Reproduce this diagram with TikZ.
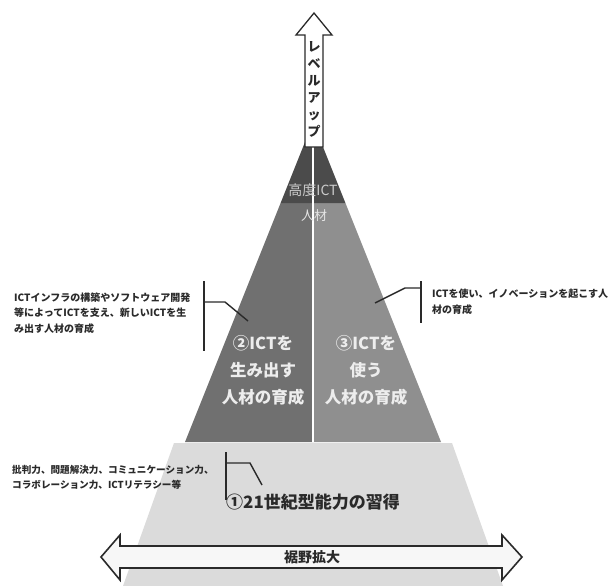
\documentclass[tikz,border=0pt]{standalone}
\usepackage{fontspec}
\newfontfamily\jp{Noto Sans CJK JP}
\definecolor{topdark}{HTML}{4B4B4B}
\definecolor{midleft}{HTML}{707070}
\definecolor{midright}{HTML}{8F8F8F}
\definecolor{baselight}{HTML}{DBDBDB}
\definecolor{ink}{HTML}{2A2A2A}
\definecolor{pale}{HTML}{EDEDED}
\begin{document}
\begin{tikzpicture}[x=1pt,y=-1pt,
  callout/.style={draw=ink, line width=1.4pt},
  bigarrow/.style={draw=ink, line width=1.6pt, fill=white, line join=miter},
  sidenote/.style={font=\jp\bfseries\fontsize{9.6}{15.5}\selectfont, text=ink, align=left, inner sep=0pt, anchor=west},
  inlabel/.style={font=\jp\bfseries\fontsize{16.5}{27}\selectfont, text=pale, align=center, inner sep=0pt}
]
\useasboundingbox (0,0) rectangle (611,586);
\fill[white] (0,0) rectangle (611,586);
% pyramid sections
\fill[baselight] (174,443) -- (452,443) -- (503,586) -- (123,586) -- cycle;
\fill[midleft] (280.6,203) -- (313,203) -- (313,442) -- (185,442) -- cycle;
\fill[midright] (313,203) -- (345.4,203) -- (441,442) -- (313,442) -- cycle;
\fill[topdark] (313,122) -- (345.4,203) -- (280.6,203) -- cycle;
\draw[white, line width=1.5pt] (313,125) -- (313,442);
% up arrow
\draw[bigarrow, line width=1.3pt] (305,147) -- (323,147) -- (323,35) -- (332,35) -- (314,13) -- (296,35) -- (305,35) -- cycle;
\node[font=\jp\bfseries\fontsize{13}{17}\selectfont, text=ink, align=center, inner sep=0pt] (levelup) at (314,89) {レ\\ベ\\ル\\ア\\ッ\\プ};
% labels in pyramid
\node[font=\jp\fontsize{14}{16}\selectfont, text=black!20, inner sep=0pt] (kodo) at (313,190) {高度ICT};
\node[font=\jp\fontsize{13}{16}\selectfont, text=black!10, inner sep=0pt] (jinzai) at (314,216) {人材};
\node[inlabel] (create) at (263,370) {②ICTを\\生み出す\\人材の育成};
\node[inlabel] (use) at (366,370) {③ICTを\\使う\\人材の育成};
\node[font=\jp\bfseries\fontsize{17}{20}\selectfont, text=ink, inner sep=0pt, anchor=west] (basic) at (226,502) {①21世紀型能力の習得};
% side notes
\node[sidenote, font=\jp\bfseries\fontsize{10}{15.5}\selectfont] (noteL) at (14,313) {ICTインフラの構築やソフトウェア開発\\等によってICTを支え、新しいICTを生\\み出す人材の育成};
\node[sidenote, font=\jp\bfseries\fontsize{10}{16}\selectfont] (noteR) at (432,301.5) {ICTを使い、イノベーションを起こす人\\材の育成};
\node[sidenote] (noteB) at (12,477.5) {批判力、問題解決力、コミュニケーション力、\\コラボレーション力、ICTリテラシー等};
% callout lines
\coordinate (lvt) at (204,281); \coordinate (lvb) at (204,351);
\coordinate (lh) at (204,302); \coordinate (lk) at (225,302); \coordinate (le) at (248,321);
\draw[callout] (lvt) -- (lvb);
\draw[callout] (lh) -- (lk) -- (le);
\coordinate (rvt) at (421,281); \coordinate (rvb) at (421,323);
\coordinate (rh) at (421,288); \coordinate (rk) at (405,288); \coordinate (re) at (375,303);
\draw[callout] (rvt) -- (rvb);
\draw[callout] (rh) -- (rk) -- (re);
\coordinate (bvt) at (226,452); \coordinate (bvb) at (226,500);
\coordinate (bh) at (226,463); \coordinate (bk) at (250,463); \coordinate (be) at (262,485);
\draw[callout] (bvt) -- (bvb);
\draw[callout] (bh) -- (bk) -- (be);
% horizontal double arrow
\draw[bigarrow, fill=white!97!black] (101,557) -- (120,535) -- (120,546) -- (502,546) -- (502,535) -- (522,557) -- (502,580) -- (502,568) -- (120,568) -- (120,580) -- cycle;
\node[font=\jp\bfseries\fontsize{14}{16}\selectfont, text=ink, inner sep=0pt] (susono) at (312,557) {裾野拡大};
\end{tikzpicture}
\end{document}
